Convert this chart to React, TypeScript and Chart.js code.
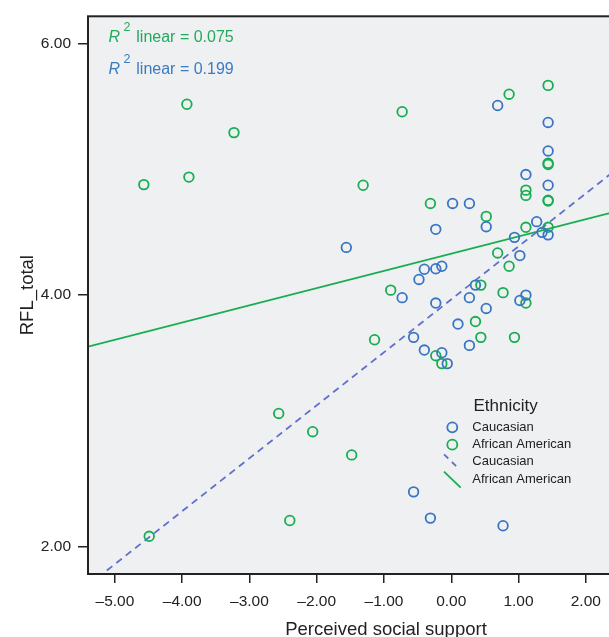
import React, { useEffect, useRef } from "react";
import { Chart, registerables } from "chart.js";

Chart.register(...registerables);

// ---- data ----
const caucasianX = [0.69, 1.44, 1.44, 1.11, 1.44, 0.02, 0.27, -0.23, 0.52, -1.56, 1.27, 1.35, 1.44, 0.94, 1.02, -0.4, -0.23, -0.14, -0.48, 0.36, -0.73, -0.23, 0.27, 1.11, 1.02, 0.52, 0.1, -0.56, 0.27, -0.4, -0.14, -0.06, -0.56, -0.31, 0.77];
const caucasianY = [5.51, 5.375, 5.148, 4.96, 4.875, 4.73, 4.73, 4.524, 4.545, 4.38, 4.585, 4.5, 4.48, 4.46, 4.315, 4.206, 4.21, 4.23, 4.125, 4.08, 3.98, 3.937, 3.98, 4.0, 3.958, 3.894, 3.77, 3.664, 3.6, 3.563, 3.542, 3.455, 2.434, 2.225, 2.164];

const africanX = [1.44, 0.86, -0.73, -1.31, 1.44, 1.44, 1.11, 1.11, 1.44, 1.44, -0.31, 0.52, 1.11, 1.44, 0.69, 0.86, 0.44, -0.9, 0.77, 1.11, 0.36, 0.44, 0.94, -1.14, -0.23, -0.14, -3.93, -3.23, -3.9, -4.57, -2.565, -2.06, -1.48, -2.4, -4.49];
const africanY = [5.67, 5.6, 5.46, 4.875, 5.05, 5.04, 4.836, 4.794, 4.75, 4.755, 4.73, 4.627, 4.54, 4.54, 4.336, 4.23, 4.08, 4.04, 4.02, 3.937, 3.79, 3.664, 3.664, 3.645, 3.518, 3.455, 5.52, 5.294, 4.94, 4.88, 3.058, 2.913, 2.728, 2.206, 2.08];

const fitCaucasianX = [-5.4, 3.46];
const fitCaucasianY = [1.69, 5.425];
const fitAfricanX = [-5.4, 3.46];
const fitAfricanY = [3.59, 4.804];

const xBounds = [-5.4, 3.46];
const yBounds = [1.78, 6.22];
const xStep = 1;
const yStep = 2;

const seriesNames = ["Caucasian", "African American"];
const legendTitle = "Ethnicity";
const r2Values = ["0.075", "0.199"];
const xTitle = "Perceived social support";
const yTitle = "RFL_total";

// ---- styles ----
const BLUE = "#3a75c4";
const GREEN = "#17ad50";
const DASH_BLUE = "#6270c8";
const TEXT = "#222222";
const BG = "#eef0f2";
const FONT = "'Liberation Sans', Arial, Helvetica, sans-serif";

const toPts = (xs: number[], ys: number[]) => xs.map((x, i) => ({ x, y: ys[i] }));

const fmt = (v: number) => (v < 0 ? "\u2013" + Math.abs(v).toFixed(2) : v.toFixed(2));

const decorPlugin = {
  id: "decor",
  beforeDraw(chart: any) {
    const { ctx, chartArea: a } = chart;
    ctx.save();
    ctx.fillStyle = BG;
    ctx.fillRect(a.left, a.top, a.right - a.left, a.bottom - a.top);
    ctx.restore();
  },
  afterDraw(chart: any) {
    const { ctx, chartArea: a } = chart;
    ctx.save();
    // frame
    ctx.strokeStyle = TEXT;
    ctx.lineWidth = 2;
    ctx.strokeRect(a.left, a.top, a.right - a.left, a.bottom - a.top);

    // R^2 labels
    const r2 = [
      { color: "#22aa5c", value: r2Values[0], base: 41.7 },
      { color: "#3c7bc0", value: r2Values[1], base: 74.3 },
    ];
    ctx.textBaseline = "alphabetic";
    ctx.textAlign = "left";
    r2.forEach((r) => {
      ctx.fillStyle = r.color;
      ctx.font = `italic 16px ${FONT}`;
      ctx.fillText("R", 108.5, r.base);
      ctx.font = `12.5px ${FONT}`;
      ctx.fillText("2", 123.5, r.base - 11);
      ctx.font = `16px ${FONT}`;
      ctx.fillText("linear = " + r.value, 136.3, r.base);
    });

    // legend
    ctx.fillStyle = TEXT;
    ctx.textBaseline = "middle";
    ctx.font = `17px ${FONT}`;
    ctx.fillText(legendTitle, 473.5, 406);
    ctx.font = `13px ${FONT}`;
    const rows = [427.3, 444.7, 461.3, 479.3];
    const labels = [seriesNames[0], seriesNames[1], seriesNames[0], seriesNames[1]];
    labels.forEach((l, i) => ctx.fillText(l, 472.3, rows[i]));

    ctx.lineWidth = 1.8;
    ctx.strokeStyle = BLUE;
    ctx.beginPath();
    ctx.arc(452.3, 427.3, 5, 0, Math.PI * 2);
    ctx.stroke();
    ctx.strokeStyle = GREEN;
    ctx.beginPath();
    ctx.arc(452.3, 444.7, 5, 0, Math.PI * 2);
    ctx.stroke();

    ctx.strokeStyle = DASH_BLUE;
    ctx.lineWidth = 1.8;
    ctx.setLineDash([6, 5]);
    ctx.beginPath();
    ctx.moveTo(444, 454.3);
    ctx.lineTo(458.3, 468.3);
    ctx.stroke();
    ctx.setLineDash([]);
    ctx.strokeStyle = GREEN;
    ctx.lineWidth = 1.8;
    ctx.beginPath();
    ctx.moveTo(444, 471.7);
    ctx.lineTo(460.7, 487.7);
    ctx.stroke();
    ctx.restore();
  },
};

export default function App() {
  const ref = useRef<HTMLCanvasElement | null>(null);

  useEffect(() => {
    if (!ref.current) return;
    const chart = new Chart(ref.current, {
      type: "scatter",
      data: {
        datasets: [
          {
            type: "line",
            label: seriesNames[0] + " fit",
            data: toPts(fitCaucasianX, fitCaucasianY),
            borderColor: DASH_BLUE,
            borderWidth: 1.8,
            borderDash: [7, 5],
            pointRadius: 0,
            fill: false,
            order: 3,
          } as any,
          {
            type: "line",
            label: seriesNames[1] + " fit",
            data: toPts(fitAfricanX, fitAfricanY),
            borderColor: GREEN,
            borderWidth: 1.8,
            pointRadius: 0,
            fill: false,
            order: 3,
          } as any,
          {
            label: seriesNames[0],
            data: toPts(caucasianX, caucasianY),
            pointStyle: "circle",
            pointRadius: 4.8,
            borderWidth: 1.8,
            borderColor: BLUE,
            backgroundColor: "rgba(0,0,0,0)",
            order: 1,
          },
          {
            label: seriesNames[1],
            data: toPts(africanX, africanY),
            pointStyle: "circle",
            pointRadius: 4.8,
            borderWidth: 1.8,
            borderColor: GREEN,
            backgroundColor: "rgba(0,0,0,0)",
            order: 2,
          },
        ],
      },
      options: {
        responsive: false,
        animation: false,
        layout: { padding: { top: 14, right: 16, left: 0, bottom: 0 } },
        plugins: {
          legend: { display: false },
          tooltip: { enabled: false },
        },
        scales: {
          x: {
            type: "linear",
            min: xBounds[0],
            max: xBounds[1],
            afterFit: (s: any) => {
              s.height = 63;
            },
            border: { display: false },
            grid: {
              drawOnChartArea: false,
              drawTicks: true,
              tickLength: 9,
              color: TEXT,
              lineWidth: 1.5,
            },
            ticks: {
              stepSize: xStep,
              includeBounds: false,
              padding: 9,
              color: TEXT,
              font: { family: FONT, size: 15.5 },
              maxRotation: 0,
              autoSkip: false,
              callback: (v: any) => fmt(Number(v)),
            },
            title: {
              display: true,
              text: xTitle,
              color: TEXT,
              font: { family: FONT, size: 18.5 },
              padding: { top: 0, bottom: -4 },
            },
          },
          y: {
            type: "linear",
            min: yBounds[0],
            max: yBounds[1],
            afterFit: (s: any) => {
              s.width = 88;
            },
            border: { display: false },
            grid: {
              drawOnChartArea: false,
              drawTicks: true,
              tickLength: 10,
              color: TEXT,
              lineWidth: 1.5,
            },
            ticks: {
              stepSize: yStep,
              includeBounds: false,
              padding: 7,
              color: TEXT,
              font: { family: FONT, size: 15.5 },
              callback: (v: any) => Number(v).toFixed(2),
            },
            title: {
              display: true,
              text: yTitle,
              color: TEXT,
              font: { family: FONT, size: 18.5 },
              padding: { top: 17, bottom: 0 },
            },
          },
        },
      },
      plugins: [decorPlugin],
    } as any);
    return () => chart.destroy();
  }, []);

  return (
    <div
      style={{
        position: "fixed",
        left: 0,
        top: 0,
        width: 609,
        height: 637,
        overflow: "hidden",
        background: "#ffffff",
      }}
    >
      <canvas ref={ref} width={700} height={637} style={{ display: "block" }} />
    </div>
  );
}
